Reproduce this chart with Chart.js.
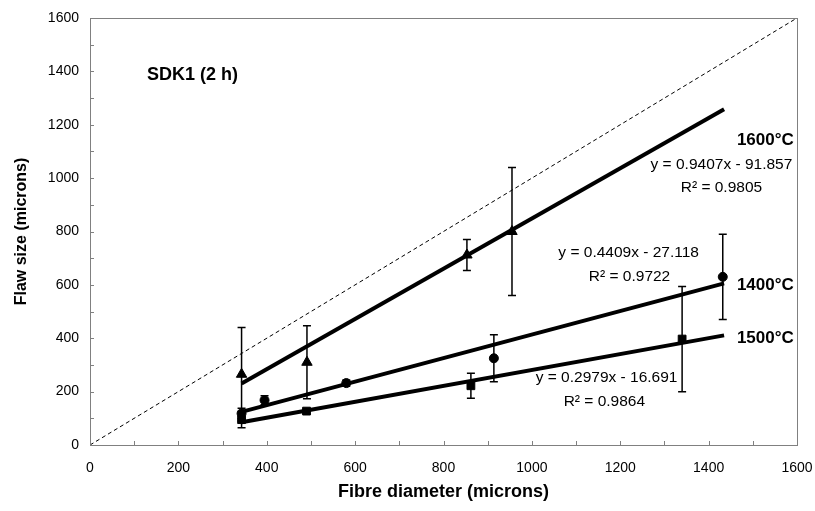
<!DOCTYPE html>
<html>
<head>
<meta charset="utf-8">
<script src="https://cdn.jsdelivr.net/npm/chart.js@4.4.1/dist/chart.umd.min.js"></script>
<style>
  html, body { margin: 0; padding: 0; background: #fff; }
</style>
</head>
<body>
<canvas id="chart" width="815" height="511"></canvas>
<script>
const FONT = '"Liberation Sans", Arial, sans-serif';

// measured points: fibre diameter, flaw size, +/- error
const d1600 = [343, 491, 853, 955];
const f1600 = [265, 310, 712, 800];
const e1600 = [175, 137, 58, 240];

const d1400 = [343, 395, 580, 914, 1432];
const f1400 = [118, 168, 232, 325, 630];
const e1400 = [20, 17, 12, 88, 160];

const d1500 = [343, 490, 862, 1340];
const f1500 = [95, 127, 222, 397];
const e1500 = [30, 8, 47, 197];

// linear fits [slope, intercept] and the x span they are drawn over
const fit1600 = [0.9407, -91.857];
const fit1400 = [0.4409, -27.118];
const fit1500 = [0.2979, -16.691];
const fitSpan = [343, 1435];

const axisTicks = [0, 200, 400, 600, 800, 1000, 1200, 1400, 1600];

const pts = (xs, ys) => xs.map((x, i) => ({ x: x, y: ys[i] }));
const fitLine = (f) => fitSpan.map(x => ({ x: x, y: f[0] * x + f[1] }));

const series = [
  { pts: pts(d1600, f1600), err: e1600, style: 'triangle', r: 6 },
  { pts: pts(d1400, f1400), err: e1400, style: 'circle', r: 4.5 },
  { pts: pts(d1500, f1500), err: e1500, style: 'rect', r: 5.5 }
];

const notes = [
  { text: 'SDK1 (2 h)', x: 129, y: 1386, align: 'left', font: 'bold 18px ' + FONT },
  { text: '1600°C', x: 1464, y: 1143, align: 'left', font: 'bold 17px ' + FONT },
  { text: '1400°C', x: 1464, y: 600, align: 'left', font: 'bold 17px ' + FONT },
  { text: '1500°C', x: 1464, y: 401, align: 'left', font: 'bold 17px ' + FONT },
  { text: 'y = 0.9407x - 91.857', x: 1429, y: 1049, align: 'center', font: '15.5px ' + FONT },
  { text: 'R² = 0.9805', x: 1429, y: 963, align: 'center', font: '15.5px ' + FONT },
  { text: 'y = 0.4409x - 27.118', x: 1219, y: 719, align: 'center', font: '15.5px ' + FONT },
  { text: 'R² = 0.9722', x: 1221, y: 629, align: 'center', font: '15.5px ' + FONT },
  { text: 'y = 0.2979x - 16.691', x: 1169, y: 251, align: 'center', font: '15.5px ' + FONT },
  { text: 'R² = 0.9864', x: 1164, y: 161, align: 'center', font: '15.5px ' + FONT }
];

// error bars with caps
const errorBars = {
  id: 'errorBars',
  afterDatasetsDraw(chart) {
    const { ctx, scales: { x, y } } = chart;
    ctx.save();
    ctx.strokeStyle = '#000';
    ctx.lineWidth = 1.5;
    series.forEach(s => {
      s.pts.forEach((p, i) => {
        const px = x.getPixelForValue(p.x);
        const top = y.getPixelForValue(p.y + s.err[i]);
        const bot = y.getPixelForValue(p.y - s.err[i]);
        ctx.beginPath();
        ctx.moveTo(px, top); ctx.lineTo(px, bot);
        ctx.moveTo(px - 4, top); ctx.lineTo(px + 4, top);
        ctx.moveTo(px - 4, bot); ctx.lineTo(px + 4, bot);
        ctx.stroke();
      });
    });
    ctx.restore();
  }
};

// plot frame, inside tick marks and text notes
const decorations = {
  id: 'decorations',
  afterDraw(chart) {
    const { ctx, chartArea: a, scales: { x, y } } = chart;
    ctx.save();
    ctx.strokeStyle = '#808080';
    ctx.lineWidth = 1;
    ctx.strokeRect(a.left + 0.5, a.top + 0.5, a.right - a.left, a.bottom - a.top);
    ctx.beginPath();
    for (let v = 100; v < 1600; v += 100) {
      const px = Math.round(x.getPixelForValue(v)) + 0.5;
      ctx.moveTo(px, a.bottom); ctx.lineTo(px, a.bottom - 4);
      const py = Math.round(y.getPixelForValue(v)) + 0.5;
      ctx.moveTo(a.left, py); ctx.lineTo(a.left + 4, py);
    }
    ctx.stroke();
    ctx.fillStyle = '#000';
    ctx.textBaseline = 'middle';
    notes.forEach(n => {
      ctx.font = n.font;
      ctx.textAlign = n.align;
      ctx.fillText(n.text, x.getPixelForValue(n.x), y.getPixelForValue(n.y));
    });
    ctx.restore();
  }
};

const lineSet = (data, width, dash) => ({
  type: 'line', data: data, borderColor: '#000', borderWidth: width,
  borderDash: dash, pointRadius: 0, showLine: true, fill: false
});

new Chart(document.getElementById('chart'), {
  type: 'scatter',
  data: {
    datasets: [
      lineSet([{ x: 0, y: 0 }, { x: 1600, y: 1600 }], 1, [4, 3]),
      lineSet(fitLine(fit1600), 4, []),
      lineSet(fitLine(fit1400), 4, []),
      lineSet(fitLine(fit1500), 4, []),
      ...series.map(s => ({
        data: s.pts, pointStyle: s.style, pointRadius: s.r,
        backgroundColor: '#000', borderColor: '#000', borderWidth: 1, showLine: false
      }))
    ]
  },
  options: {
    responsive: false,
    animation: false,
    layout: { padding: { left: 0, right: 18, top: 18, bottom: 0 } },
    plugins: { legend: { display: false }, tooltip: { enabled: false } },
    scales: {
      x: {
        type: 'linear', min: 0, max: 1600,
        afterBuildTicks: (s) => { s.ticks = axisTicks.map(v => ({ value: v })); },
        afterFit: (s) => { s.height = 66; s.paddingLeft = 0; s.paddingRight = 0; },
        grid: { display: false, drawTicks: false },
        border: { display: true, color: '#808080' },
        ticks: { padding: 15, color: '#000', font: { family: FONT, size: 14 },
                 callback: (v) => String(v) },
        title: { display: true, text: 'Fibre diameter (microns)', color: '#000',
                 padding: { top: 0, bottom: 8 }, font: { family: FONT, size: 18, weight: 'bold' } }
      },
      y: {
        type: 'linear', min: 0, max: 1600,
        afterBuildTicks: (s) => { s.ticks = axisTicks.map(v => ({ value: v })); },
        afterFit: (s) => { s.width = 90; s.paddingTop = 0; s.paddingBottom = 0; },
        grid: { display: false, drawTicks: false },
        border: { display: true, color: '#808080' },
        ticks: { padding: 11, color: '#000', font: { family: FONT, size: 14 },
                 callback: (v) => String(v) },
        title: { display: true, text: 'Flaw size (microns)', color: '#000',
                 padding: { top: 12, bottom: 0 }, font: { family: FONT, size: 16, weight: 'bold' } }
      }
    }
  },
  plugins: [errorBars, decorations]
});
</script>
</body>
</html>
